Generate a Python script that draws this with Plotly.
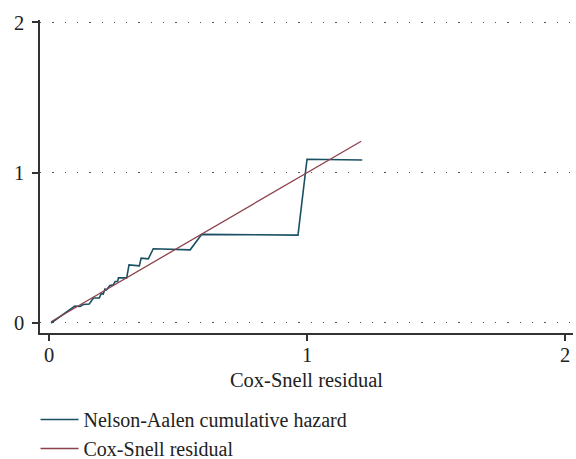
import plotly.graph_objects as go

# Nelson-Aalen cumulative hazard
na_x = [0.008, 0.10, 0.12, 0.133, 0.156, 0.172, 0.195, 0.202, 0.21, 0.217, 0.222,
        0.236, 0.249, 0.256, 0.266, 0.269, 0.301, 0.31, 0.35, 0.357, 0.385, 0.404,
        0.547, 0.592, 0.965, 1.0, 1.214]
na_y = [0.0, 0.113, 0.11, 0.123, 0.126, 0.166, 0.166, 0.195, 0.193, 0.226, 0.22,
        0.25, 0.254, 0.276, 0.276, 0.30, 0.30, 0.387, 0.38, 0.432, 0.427, 0.494,
        0.487, 0.59, 0.585, 1.09, 1.085]

# Cox-Snell residual reference line
cs_x = [0.008, 1.21]
cs_y = [0.008, 1.21]

x_ticks = [0, 1, 2]
y_ticks = [0, 1, 2]

font_family = "Liberation Serif"
fs = 20.5

fig = go.Figure()
fig.add_trace(go.Scatter(x=na_x, y=na_y, mode="lines",
                         line=dict(color="#1a5064", width=1.6),
                         name="Nelson-Aalen cumulative hazard"))
fig.add_trace(go.Scatter(x=cs_x, y=cs_y, mode="lines",
                         line=dict(color="#8c4049", width=1.3),
                         name="Cox-Snell residual"))

fig.update_layout(
    width=576, height=459,
    margin=dict(l=40, r=3, t=20, b=126, autoexpand=False),
    paper_bgcolor="white", plot_bgcolor="white",
    font=dict(family=font_family, size=fs, color="#222"),
    showlegend=True,
    legend=dict(orientation="v", x=-0.0084, xanchor="left", y=-0.214, yanchor="top",
                font=dict(family=font_family, size=20, color="#222"),
                tracegroupgap=0, itemwidth=38, bgcolor="rgba(0,0,0,0)"),
    xaxis=dict(range=[-0.035, 2.031], tickvals=x_ticks, ticktext=[str(v) for v in x_ticks],
               showgrid=False, zeroline=False, showline=True, linecolor="#333", linewidth=1.5,
               ticks="outside", ticklen=6, tickwidth=1.5, tickcolor="#333",
               ticklabelstandoff=-3,
               title=dict(text="Cox-Snell residual", font=dict(size=fs), standoff=7),
               tickfont=dict(size=fs)),
    yaxis=dict(range=[-0.0666, 2.0166], tickvals=y_ticks, ticktext=[str(v) for v in y_ticks],
               showgrid=True, gridcolor="#555", gridwidth=1, griddash="1.3px,11px",
               zeroline=False, showline=True, linecolor="#333", linewidth=1.5,
               ticks="outside", ticklen=6, tickwidth=1.5, tickcolor="#333",
               ticklabelstandoff=4,
               tickfont=dict(size=fs)),
)

fig.write_html("out.html", config={"displayModeBar": False},
               post_script="document.body.style.margin='0';document.body.style.padding='0';")
